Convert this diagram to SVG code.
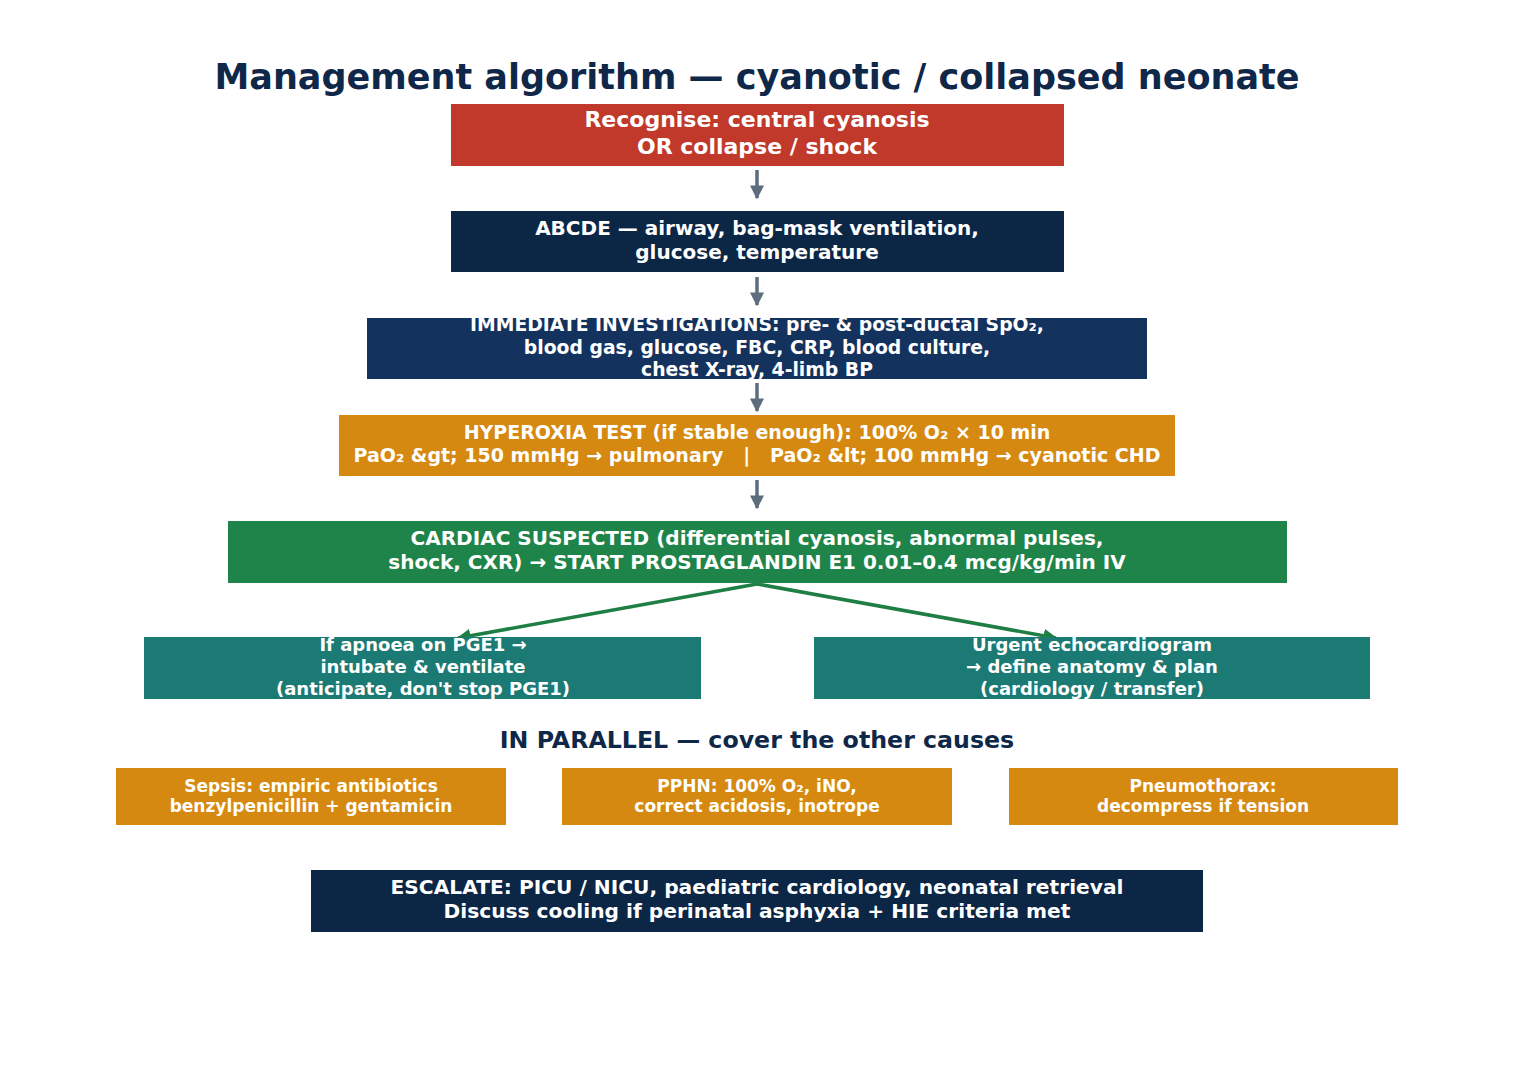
<svg xmlns="http://www.w3.org/2000/svg" width="1515" height="1090" viewBox="0 0 1515 1090">
<defs>
<style>
text{font-family:"DejaVu Sans","Liberation Sans",sans-serif;font-weight:bold;text-anchor:middle;fill:#ffffff}
.title{fill:#0f2748;font-size:35px}
.sub{fill:#0f2748;font-size:23.7px}
.gray{stroke:#5d6d7e;stroke-width:3.5;fill:none}
.grn{stroke:#1e7e44;stroke-width:3.5;fill:none}
</style>
<marker id="ag" viewBox="0 0 10 10" refX="9" refY="5" markerWidth="4" markerHeight="4" orient="auto" markerUnits="strokeWidth"><path d="M0,0L10,5L0,10z" fill="#5d6d7e"/></marker>
<marker id="agr" viewBox="0 0 10 10" refX="9" refY="5" markerWidth="4" markerHeight="4" orient="auto" markerUnits="strokeWidth"><path d="M0,0L10,5L0,10z" fill="#1e7e44"/></marker>
</defs>
<rect width="1515" height="1090" fill="#ffffff"/>
<text class="title" x="757" y="89">Management algorithm — cyanotic / collapsed neonate</text>
<g id="connectors">
<path class="gray" d="M757,170V198" marker-end="url(#ag)"/>
<path class="gray" d="M757,277V305" marker-end="url(#ag)"/>
<path class="gray" d="M757,383V411" marker-end="url(#ag)"/>
<path class="gray" d="M757,480V508" marker-end="url(#ag)"/>
<path class="grn" d="M757,584L458,638" marker-end="url(#agr)"/>
<path class="grn" d="M757,584L1056,638" marker-end="url(#agr)"/>
</g>
<g id="n1"><rect x="451" y="104" width="613" height="62" fill="#c0392b"/>
<text x="757" y="127" font-size="22">Recognise: central cyanosis</text>
<text x="757" y="154" font-size="22">OR collapse / shock</text></g>
<g id="n2"><rect x="451" y="211" width="613" height="61" fill="#0c2646"/>
<text x="757" y="235" font-size="20">ABCDE — airway, bag-mask ventilation,</text>
<text x="757" y="259" font-size="20">glucose, temperature</text></g>
<g id="n3"><rect x="367" y="318" width="780" height="61" fill="#14325e"/>
<text x="757" y="331" font-size="18.8">IMMEDIATE INVESTIGATIONS: pre- &amp; post-ductal SpO₂,</text>
<text x="757" y="354" font-size="18.8">blood gas, glucose, FBC, CRP, blood culture,</text>
<text x="757" y="376" font-size="18.8">chest X-ray, 4-limb BP</text></g>
<g id="n4"><rect x="339" y="415" width="836" height="61" fill="#d68910"/>
<text x="757" y="439" font-size="19">HYPEROXIA TEST (if stable enough): 100% O₂ × 10 min</text>
<text x="757" y="462" font-size="19" xml:space="preserve">PaO₂ &amp;gt; 150 mmHg → pulmonary   |   PaO₂ &amp;lt; 100 mmHg → cyanotic CHD</text></g>
<g id="n5"><rect x="228" y="521" width="1059" height="62" fill="#1e8449"/>
<text x="757" y="545" font-size="20">CARDIAC SUSPECTED (differential cyanosis, abnormal pulses,</text>
<text x="757" y="569" font-size="20">shock, CXR) → START PROSTAGLANDIN E1 0.01–0.4 mcg/kg/min IV</text></g>
<g id="n6"><rect x="144" y="637" width="557" height="62" fill="#1b7a74"/>
<text x="423" y="651" font-size="18">If apnoea on PGE1 →</text>
<text x="423" y="673" font-size="18">intubate &amp; ventilate</text>
<text x="423" y="695" font-size="18">(anticipate, don't stop PGE1)</text></g>
<g id="n7"><rect x="814" y="637" width="556" height="62" fill="#1b7a74"/>
<text x="1092" y="651" font-size="18">Urgent echocardiogram</text>
<text x="1092" y="673" font-size="18">→ define anatomy &amp; plan</text>
<text x="1092" y="695" font-size="18">(cardiology / transfer)</text></g>
<text class="sub" x="757" y="748">IN PARALLEL — cover the other causes</text>
<g id="n8"><rect x="116" y="768" width="390" height="57" fill="#d68910"/>
<text x="311" y="792" font-size="17">Sepsis: empiric antibiotics</text>
<text x="311" y="812" font-size="17">benzylpenicillin + gentamicin</text></g>
<g id="n9"><rect x="562" y="768" width="390" height="57" fill="#d68910"/>
<text x="757" y="792" font-size="17">PPHN: 100% O₂, iNO,</text>
<text x="757" y="812" font-size="17">correct acidosis, inotrope</text></g>
<g id="n10"><rect x="1009" y="768" width="389" height="57" fill="#d68910"/>
<text x="1203" y="792" font-size="17">Pneumothorax:</text>
<text x="1203" y="812" font-size="17">decompress if tension</text></g>
<g id="n11"><rect x="311" y="870" width="892" height="62" fill="#0c2646"/>
<text x="757" y="894" font-size="20.2">ESCALATE: PICU / NICU, paediatric cardiology, neonatal retrieval</text>
<text x="757" y="918" font-size="20.2">Discuss cooling if perinatal asphyxia + HIE criteria met</text></g>
</svg>
